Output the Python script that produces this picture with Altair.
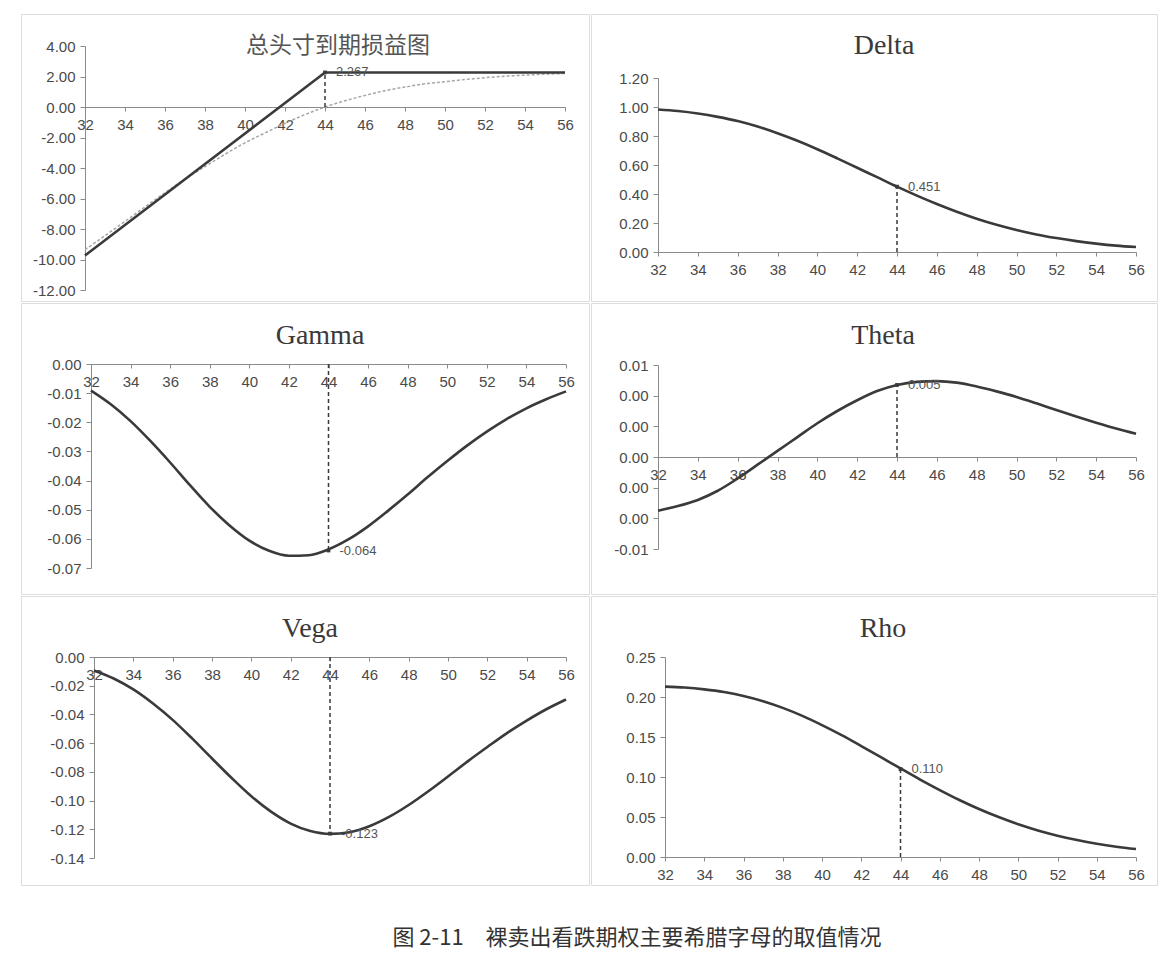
import altair as alt
import pandas as pd

# ---------------- data ----------------
S = [32, 33, 34, 35, 36, 37, 38, 39, 40, 41, 42, 43, 44,
     45, 46, 47, 48, 49, 50, 51, 52, 53, 54, 55, 56]

expiry_S = [32, 44, 56]
expiry_pnl = [-9.733, 2.267, 2.267]

pnl_now = [-9.35, -8.44, -7.50, -6.55, -5.62, -4.72, -3.91, -3.10, -2.35, -1.70,
           -1.07, -0.50, 0.00, 0.41, 0.76, 1.07, 1.31, 1.52, 1.66, 1.80,
           1.92, 2.02, 2.09, 2.15, 2.20]

delta = [0.983, 0.972, 0.955, 0.932, 0.903, 0.865, 0.819, 0.767, 0.709, 0.646,
         0.581, 0.516, 0.451, 0.389, 0.331, 0.278, 0.230, 0.188, 0.152, 0.121,
         0.096, 0.075, 0.058, 0.044, 0.034]

gamma = [-0.0091, -0.0138, -0.0196, -0.0264, -0.0338, -0.0416, -0.0490, -0.0554,
         -0.0606, -0.0641, -0.0658, -0.0656, -0.0636, -0.0602, -0.0557, -0.0504,
         -0.0448, -0.0389, -0.0333, -0.0280, -0.0232, -0.0189, -0.0152, -0.0121,
         -0.0094]

theta = [-0.0035, -0.0032, -0.0028, -0.0022, -0.0014, -0.0005, 0.0004, 0.0013,
         0.0022, 0.0030, 0.0037, 0.0043, 0.0047, 0.0049, 0.00495, 0.00485,
         0.0046, 0.00428, 0.00392, 0.0035, 0.00306, 0.00264, 0.00224, 0.00186,
         0.00152]

vega = [-0.0094, -0.0150, -0.0226, -0.0324, -0.0438, -0.0569, -0.0707, -0.0843,
        -0.0970, -0.1077, -0.1160, -0.1212, -0.1232, -0.1220, -0.1179, -0.1114,
        -0.1031, -0.0935, -0.0832, -0.0727, -0.0627, -0.0530, -0.0443, -0.0364,
        -0.0296]

rho = [0.2130, 0.2118, 0.2095, 0.2062, 0.2013, 0.1948, 0.1864, 0.1764, 0.1649,
       0.1523, 0.1387, 0.1248, 0.1107, 0.0968, 0.0837, 0.0713, 0.0600, 0.0499,
       0.0409, 0.0332, 0.0267, 0.0212, 0.0166, 0.0129, 0.0100]

ann_S = 44
ann_values = [2.267, 0.451, -0.064, 0.0047, -0.123, 0.110]
ann_labels = ["2.267", "0.451", "-0.064", "0.005", "-0.123", "0.110"]

x_ticks = [32, 34, 36, 38, 40, 42, 44, 46, 48, 50, 52, 54, 56]

panel_titles = ["总头寸到期损益图", "Delta", "Gamma", "Theta", "Vega", "Rho"]
caption = "图 2-11　裸卖出看跌期权主要希腊字母的取值情况"

# ---------------- styling ----------------
AX = "#8a8a8a"
LBL = "#4a4a4a"
LINE = "#3a3a3a"
MINUS = "\u2212"


def make_panel(i, lines, W, H, xr, yr, ydom, yticks, title_font, title_size, title_dx, title_y,
               title_color="#3a3a3a"):
    # pixel position of the zero line (for axis crossing)
    y0 = yr[0] + (0 - ydom[0]) / (ydom[1] - ydom[0]) * (yr[1] - yr[0])

    def xenc(field="S"):
        return alt.X(f"{field}:Q",
                     scale=alt.Scale(domain=[32, 56], range=xr, nice=False, zero=False),
                     axis=alt.Axis(values=x_ticks, offset=y0 - H, grid=False, title=None,
                                   domainColor=AX, tickColor=AX, tickSize=4,
                                   labelColor=LBL, labelFont="Liberation Sans",
                                   labelFontSize=15, labelOverlap=False, labelFlush=False,
                                   labelPadding=6, format="d"))

    def yenc(field):
        return alt.Y(f"{field}:Q",
                     scale=alt.Scale(domain=ydom, range=yr, nice=False, zero=False),
                     axis=alt.Axis(values=yticks, offset=-xr[0], grid=False, title=None,
                                   domainColor=AX, tickColor=AX, tickSize=5,
                                   labelColor=LBL, labelFont="Liberation Sans",
                                   labelFontSize=15, labelOverlap=False, labelFlush=False,
                                   labelPadding=5,
                                   labelExpr=f"replace(format(datum.value, '.2f'), '{MINUS}', '-')"))

    layers = []
    for df, style in lines:
        if style == "solid_linear":
            m = alt.Chart(df).mark_line(color=LINE, strokeWidth=2.6)
        elif style == "dotted":
            m = alt.Chart(df).mark_line(color="#a6a6a6", strokeWidth=1.5, strokeDash=[3, 2],
                                        interpolate="monotone")
        else:
            m = alt.Chart(df).mark_line(color=LINE, strokeWidth=2.6, interpolate="monotone")
        layers.append(m.encode(x=xenc(), y=yenc("v")))

    ann = pd.DataFrame({"S": [ann_S], "base": [0.0], "v": [ann_values[i]],
                        "label": [ann_labels[i]]})
    layers.append(alt.Chart(ann).mark_rule(color=LINE, strokeWidth=1.5, strokeDash=[4, 3])
                  .encode(x=xenc(), y=yenc("base"), y2="v:Q"))
    layers.append(alt.Chart(ann).mark_point(shape="square", size=14, filled=True,
                                            color=LINE, opacity=1)
                  .encode(x=xenc(), y=yenc("v")))
    layers.append(alt.Chart(ann).mark_text(align="left", baseline="middle", dx=11,
                                           fontSize=13, font="Liberation Sans", color="#555555")
                  .encode(x=xenc(), y=yenc("v"), text="label:N"))

    # panel title, drawn inside the bordered panel
    tdf = pd.DataFrame({"t": [panel_titles[i]]})
    layers.append(alt.Chart(tdf).mark_text(align="center", baseline="middle",
                                           font=title_font, fontSize=title_size,
                                           fontWeight="normal", color=title_color)
                  .encode(x=alt.value(W / 2 + title_dx), y=alt.value(title_y), text="t:N"))

    return alt.layer(*layers).properties(width=W, height=H)


df_exp = pd.DataFrame({"S": expiry_S, "v": expiry_pnl})
df_now = pd.DataFrame({"S": S, "v": pnl_now})
df_delta = pd.DataFrame({"S": S, "v": delta})
df_gamma = pd.DataFrame({"S": S, "v": gamma})
df_theta = pd.DataFrame({"S": S, "v": theta})
df_vega = pd.DataFrame({"S": S, "v": vega})
df_rho = pd.DataFrame({"S": S, "v": rho})

WL, WR = 568, 566
H1, H2, H3 = 287, 291, 289
SERIF = "Liberation Serif"
CJK = "Noto Sans CJK SC"

p1 = make_panel(0, [(df_now, "dotted"), (df_exp, "solid_linear")], WL, H1,
                [64, 544], [276, 32], [-12, 4], [-12, -10, -8, -6, -4, -2, 0, 2, 4],
                CJK, 23, 33, 32, "#555555")
p2 = make_panel(1, [(df_delta, "smooth")], WR, H1,
                [67, 545], [238, 64], [0, 1.2], [0, 0.2, 0.4, 0.6, 0.8, 1.0, 1.2],
                SERIF, 28, 10, 32)
p3 = make_panel(2, [(df_gamma, "smooth")], WL, H2,
                [70, 545], [265, 61], [-0.07, 0], [-0.07, -0.06, -0.05, -0.04, -0.03, -0.02, -0.01, 0],
                SERIF, 28, 15, 33)
p4 = make_panel(3, [(df_theta, "smooth")], WR, H2,
                [67, 545], [246, 62], [-0.006, 0.006],
                [-0.006, -0.004, -0.002, 0, 0.002, 0.004, 0.006],
                SERIF, 28, 9, 33)
p5 = make_panel(4, [(df_vega, "smooth")], WL, H3,
                [73, 545], [262, 61], [-0.14, 0],
                [-0.14, -0.12, -0.10, -0.08, -0.06, -0.04, -0.02, 0],
                SERIF, 28, 5, 33)
p6 = make_panel(5, [(df_rho, "smooth")], WR, H3,
                [74, 545], [261, 61], [0, 0.25], [0, 0.05, 0.10, 0.15, 0.20, 0.25],
                SERIF, 28, 9, 33)

chart = alt.vconcat(
    alt.hconcat(p1, p2, spacing=0),
    alt.hconcat(p3, p4, spacing=0),
    alt.hconcat(p5, p6, spacing=0),
    spacing=0,
    title=alt.TitleParams(caption, orient="bottom", anchor="middle", dx=48, offset=42,
                          font=CJK, fontSize=22, fontWeight="normal", color="#333333"),
).properties(
    padding={"left": 12, "top": 5, "right": 5, "bottom": 0}
).configure_view(
    stroke="#9c9c9c", strokeWidth=1
).configure(background="white")

chart.save("out.html", embed_options={"renderer": "svg", "actions": False})
